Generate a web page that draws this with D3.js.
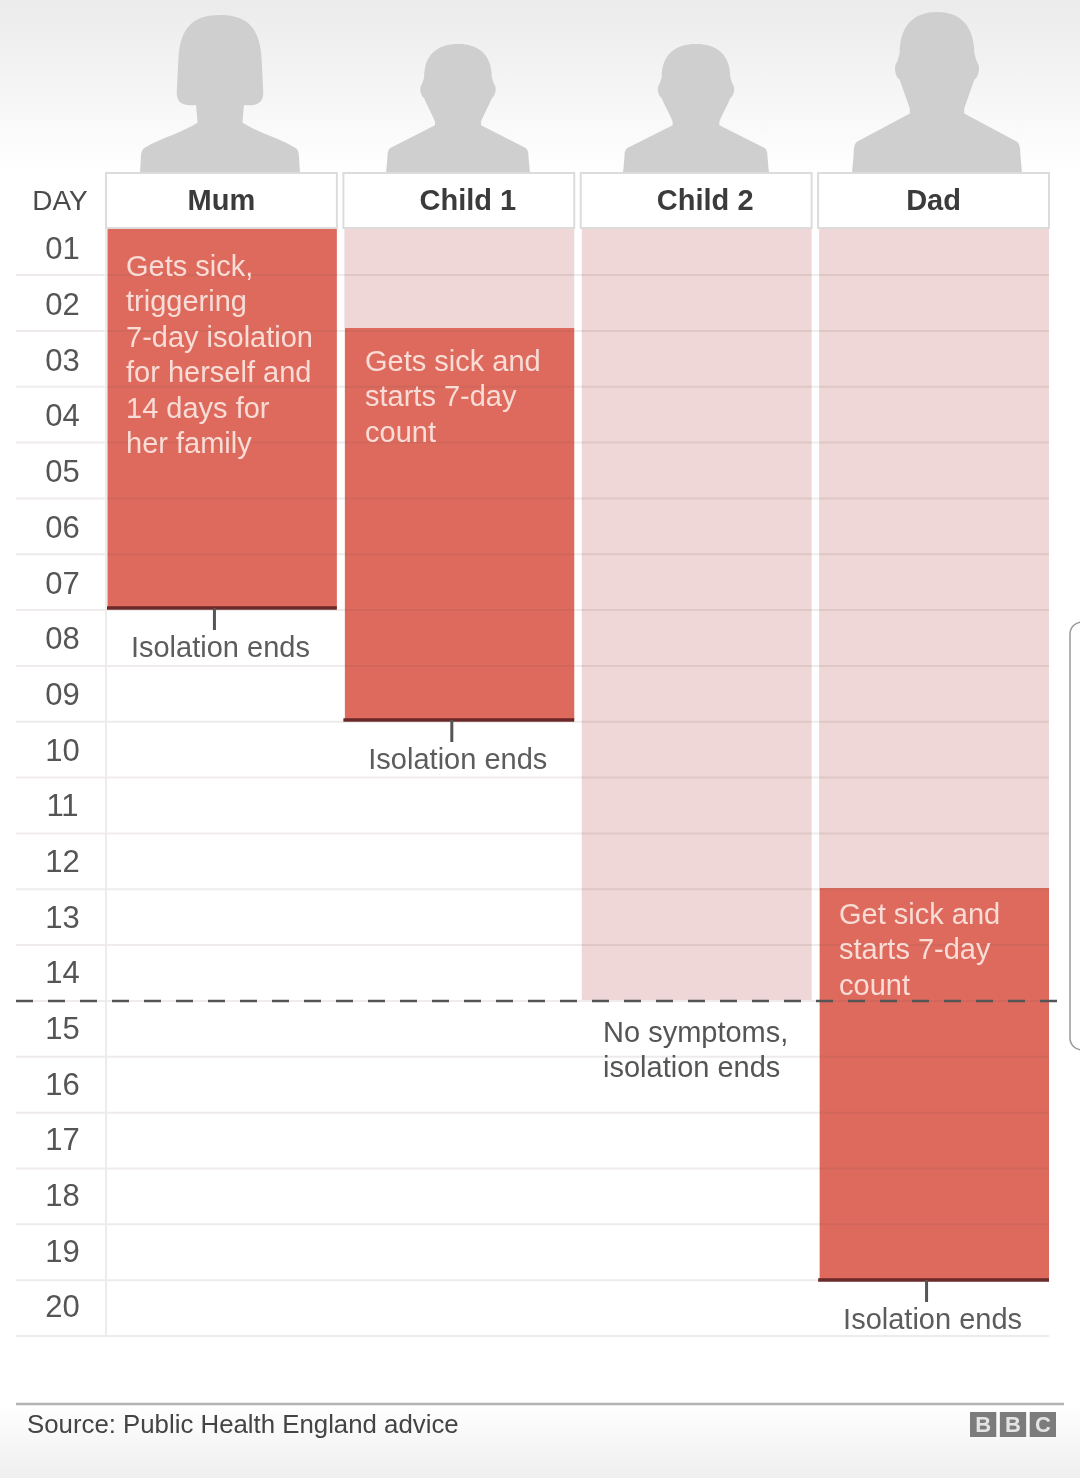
<!DOCTYPE html>
<html>
<head>
<meta charset="utf-8">
<script src="https://cdnjs.cloudflare.com/ajax/libs/d3/7.8.5/d3.min.js"></script>
<style>
  html, body { margin: 0; padding: 0; background: #fff; }
  svg { display: block; filter: blur(0.7px); }
  text { font-family: "Liberation Sans", Arial, sans-serif; }
</style>
</head>
<body>
<div id="chart"></div>
<script>
var people = ["Mum", "Child 1", "Child 2", "Dad"];
var days = d3.range(1, 21).map(function(d) { return (d < 10 ? "0" : "") + d; });
// days counted from the start of day 1; null means never sick
var sickFrom = [0, 2, null, 12];
var isolationUntil = [7, 9, 14, 19];
var familyIsolationDay = 14;
var notes = [
  ["Gets sick,", "triggering", "7-day isolation", "for herself and", "14 days for", "her family"],
  ["Gets sick and", "starts 7-day", "count"],
  ["No symptoms,", "isolation ends"],
  ["Get sick and", "starts 7-day", "count"]
];
var endLabel = "Isolation ends";
var source = "Source: Public Health England advice";
var logoLetters = ["B", "B", "C"];

var width = 1080, height = 1478, rowTop = 228;

var svg = d3.select("#chart").append("svg")
  .attr("width", width)
  .attr("height", height);

var defs = svg.append("defs");
function fade(id, c1, c2) {
  var g = defs.append("linearGradient").attr("id", id).attr("x1", 0).attr("x2", 0).attr("y1", 0).attr("y2", 1);
  g.append("stop").attr("offset", 0).attr("stop-color", c1);
  g.append("stop").attr("offset", 1).attr("stop-color", c2);
}
fade("topFade", "#ebebeb", "#ffffff");
fade("bottomFade", "#ffffff", "#efefef");

var x = d3.scaleBand().domain(people).range([106, 1049]).paddingInner(0.0274);
// grid is photographed slightly off from the bars, so each gets its own scale
var gridY = d3.scaleLinear().domain([0, 20]).range([219.2, 1336]);
var barY = d3.scaleLinear().domain([0, 20]).range([216, 1336]);
var dayY = d3.scalePoint().domain(days).range([249, 1307]);

svg.append("rect").attr("width", width).attr("height", 175).attr("fill", "url(#topFade)");
svg.append("rect").attr("y", 1404).attr("width", width).attr("height", 74).attr("fill", "url(#bottomFade)");

// silhouettes, half width 1 and height 1 before scaling
function malePath(h) {
  var e = h + 0.03;
  return "M0,0 C" + h * 0.6 + ",0 " + h + ",.08 " + h + ",.26 L" + e + ",.31 C" + (e + 0.04) + ",.33 " + (e + 0.03) + ",.4 " + h + ",.42 " +
    "C" + (h - 0.04) + ",.48 .36,.54 .32,.6 L.32,.63 L.92,.8 C.97,.81 .98,.84 .98,.88 L1,1 " +
    "L-1,1 L-.98,.88 C-.98,.84 -.97,.81 -.92,.8 L-.32,.63 L-.32,.6 C-.36,.54 " + (0.04 - h) + ",.48 " + (-h) + ",.42 " +
    "C" + (-e - 0.03) + ",.4 " + (-e - 0.04) + ",.33 " + (-e) + ",.31 L" + (-h) + ",.26 C" + (-h) + ",.08 " + (-h * 0.6) + ",0 0,0 Z";
}
var femalePath = "M0,0 C.32,0 .5,.07 .52,.28 L.54,.48 C.55,.55 .48,.58 .3,.57 L.28,.68 C.45,.74 .75,.78 .94,.84 " +
  "C.98,.85 .99,.88 .99,.92 L1,1 L-1,1 L-.99,.92 C-.99,.88 -.98,.85 -.94,.84 C-.75,.78 -.45,.74 -.28,.68 L-.3,.57 " +
  "C-.48,.58 -.55,.55 -.54,.48 L-.52,.28 C-.5,.07 -.32,0 0,0 Z";
var figures = [
  { d: femalePath, cx: 220, top: 15, w: 80 },
  { d: malePath(0.47), cx: 458, top: 44, w: 72 },
  { d: malePath(0.47), cx: 696, top: 44, w: 73 },
  { d: malePath(0.44), cx: 937, top: 12, w: 85 }
];
svg.append("g").selectAll("path").data(figures).join("path")
  .attr("d", function(f) { return f.d; })
  .attr("fill", "#cfcfcf")
  .attr("transform", function(f) {
    return "translate(" + f.cx + "," + f.top + ") scale(" + f.w + "," + (173 - f.top) + ")";
  });

// pale family isolation columns, Mum is sick from the start so she has none
var pale = people.map(function(p, i) { return { p: p, end: i === 0 ? 0 : (sickFrom[i] === null ? isolationUntil[i] : sickFrom[i]) }; })
  .filter(function(d) { return d.end > 0; });
svg.append("g").selectAll("rect").data(pale).join("rect")
  .attr("x", function(d) { return x(d.p) + 1; })
  .attr("y", rowTop)
  .attr("width", x.bandwidth() - 1)
  .attr("height", function(d) { return barY(d.end) - rowTop; })
  .attr("fill", "#eed7d6");

// sick bars
var sick = people.map(function(p, i) { return { p: p, from: sickFrom[i], to: isolationUntil[i] }; })
  .filter(function(d) { return d.from !== null; });
var sickG = svg.append("g");
sickG.selectAll("rect").data(sick).join("rect")
  .attr("x", function(d) { return x(d.p) + 1.5; })
  .attr("y", function(d) { return Math.max(barY(d.from), rowTop); })
  .attr("width", x.bandwidth() - 1.5)
  .attr("height", function(d) { return barY(d.to) - Math.max(barY(d.from), rowTop); })
  .attr("fill", "#de6a5e");

// grid runs over the fills
svg.append("g").selectAll("line").data(d3.range(1, 21)).join("line")
  .attr("x1", 16)
  .attr("x2", 1049)
  .attr("y1", function(d) { return gridY(d); })
  .attr("y2", function(d) { return gridY(d); })
  .attr("stroke", "rgba(110,70,70,0.11)")
  .attr("stroke-width", 2);
svg.append("line")
  .attr("x1", 106).attr("x2", 106).attr("y1", rowTop).attr("y2", 1336)
  .attr("stroke", "#ececec").attr("stroke-width", 2);

// end of isolation rule and tick
sickG.selectAll("line.end").data(sick).join("line")
  .attr("class", "end")
  .attr("x1", function(d) { return x(d.p); })
  .attr("x2", function(d) { return x(d.p) + x.bandwidth(); })
  .attr("y1", function(d) { return barY(d.to); })
  .attr("y2", function(d) { return barY(d.to); })
  .attr("stroke", "#6a2828")
  .attr("stroke-width", 3.5);
svg.append("g").selectAll("line").data(sick).join("line")
  .attr("x1", function(d) { return x(d.p) + x.bandwidth() / 2 - 7; })
  .attr("x2", function(d) { return x(d.p) + x.bandwidth() / 2 - 7; })
  .attr("y1", function(d) { return barY(d.to); })
  .attr("y2", function(d) { return barY(d.to) + 22; })
  .attr("stroke", "#555")
  .attr("stroke-width", 3);

svg.append("g").selectAll("text").data(sick).join("text")
  .attr("x", function(d) { return x(d.p) + x.bandwidth() / 2 - 1; })
  .attr("y", function(d) { return barY(d.to) + 49; })
  .attr("text-anchor", "middle")
  .attr("font-size", 29)
  .attr("fill", "#5c5c5c")
  .text(endLabel);

// headers
var headerNudge = { "Child 1": 9, "Child 2": 9 };
var header = svg.append("g").selectAll("g").data(people).join("g");
header.append("rect")
  .attr("x", function(d) { return x(d); })
  .attr("y", 173)
  .attr("width", x.bandwidth())
  .attr("height", 55)
  .attr("fill", "#fff")
  .attr("stroke", "#dcdcdc")
  .attr("stroke-width", 2);
header.append("text")
  .attr("x", function(d) { return x(d) + x.bandwidth() / 2 + (headerNudge[d] || 0); })
  .attr("y", 210)
  .attr("text-anchor", "middle")
  .attr("font-size", 29)
  .attr("font-weight", "bold")
  .attr("fill", "#3b3b3b")
  .text(function(d) { return d; });

// day axis
var dayAxis = svg.append("g")
  .attr("transform", "translate(62.5,0)")
  .call(d3.axisLeft(dayY).tickSize(0).tickPadding(0));
dayAxis.select(".domain").remove();
dayAxis.selectAll("text")
  .attr("x", 0)
  .attr("text-anchor", "middle")
  .attr("font-size", 31)
  .attr("font-family", '"Liberation Sans", Arial, sans-serif')
  .attr("fill", "#555");
svg.append("text")
  .attr("x", 60).attr("y", 210)
  .attr("text-anchor", "middle")
  .attr("font-size", 28)
  .attr("fill", "#4a4a4a")
  .text("DAY");

// notes
var noteSpots = [
  { x: 126, y: 276, fill: "#f8dcd6" },
  { x: 365, y: 371, fill: "#f8dcd6" },
  { x: 603, y: 1042, fill: "#555" },
  { x: 839, y: 924, fill: "#f8dcd6" }
];
notes.forEach(function(lines, i) {
  svg.append("g").selectAll("text").data(lines).join("text")
    .attr("x", noteSpots[i].x)
    .attr("y", function(d, j) { return noteSpots[i].y + j * 35.4; })
    .attr("font-size", 29)
    .attr("fill", noteSpots[i].fill)
    .text(function(d) { return d; });
});

// 14 day line
svg.append("line")
  .attr("x1", 16).attr("x2", 1058)
  .attr("y1", gridY(familyIsolationDay)).attr("y2", gridY(familyIsolationDay))
  .attr("stroke", "#555")
  .attr("stroke-width", 2.5)
  .attr("stroke-dasharray", "17,15");

// footer
svg.append("line")
  .attr("x1", 16).attr("x2", 1064).attr("y1", 1404).attr("y2", 1404)
  .attr("stroke", "#b4b4b4").attr("stroke-width", 2.5);
svg.append("text")
  .attr("x", 27).attr("y", 1433)
  .attr("font-size", 25.8)
  .attr("fill", "#444")
  .text(source);

var logoX = d3.scaleBand().domain(d3.range(logoLetters.length)).range([970, 1056]).paddingInner(0.12);
var logo = svg.append("g").selectAll("g").data(logoLetters).join("g");
logo.append("rect")
  .attr("x", function(d, i) { return logoX(i); })
  .attr("y", 1412)
  .attr("width", logoX.bandwidth())
  .attr("height", 25)
  .attr("fill", "#7c7c7c");
logo.append("text")
  .attr("x", function(d, i) { return logoX(i) + logoX.bandwidth() / 2; })
  .attr("y", 1432)
  .attr("text-anchor", "middle")
  .attr("font-size", 22)
  .attr("font-weight", "bold")
  .attr("fill", "#e4e4e4")
  .text(function(d) { return d; });

// edge of the phone scroll popup caught in the screenshot
svg.append("rect")
  .attr("x", 1070).attr("y", 622)
  .attr("width", 40).attr("height", 428)
  .attr("rx", 12)
  .attr("fill", "#fff")
  .attr("stroke", "#999")
  .attr("stroke-width", 1.5);
</script>
</body>
</html>
